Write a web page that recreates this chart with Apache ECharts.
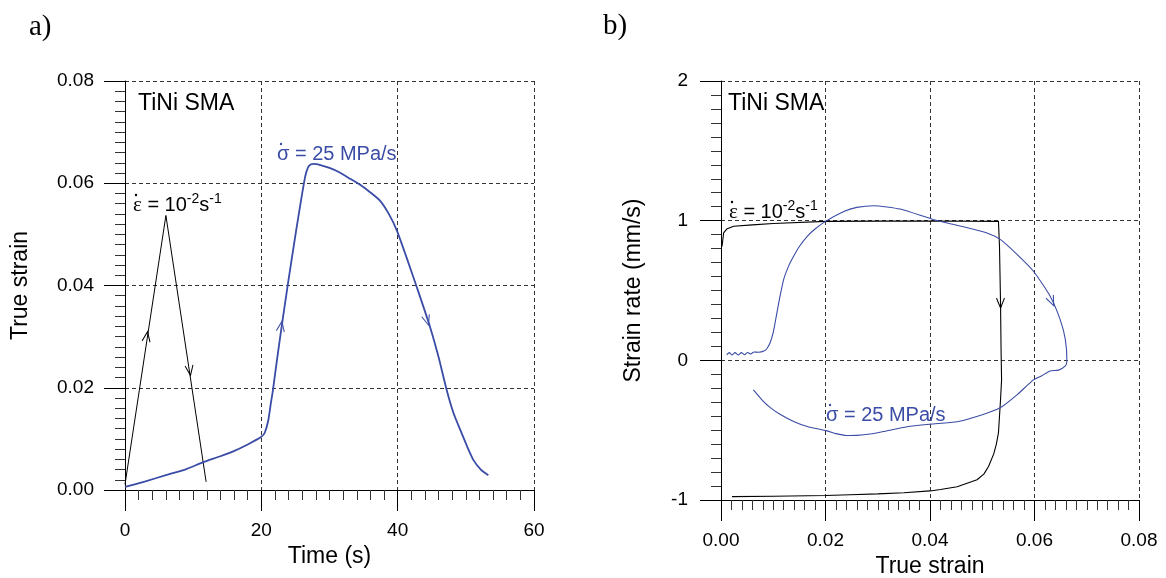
<!DOCTYPE html>
<html><head><meta charset="utf-8">
<script src="https://cdn.jsdelivr.net/npm/echarts@6/dist/echarts.min.js"></script>
<style>html,body{margin:0;padding:0;background:#fff}#c{width:1166px;height:578px}</style>
</head><body><div id="c"></div>
<script>
// ---------- DATA ----------
// Panel a) : Time (s) vs True strain
const aXTickLabels = ['0', '20', '40', '60'];
const aYTickLabels = ['0.00', '0.02', '0.04', '0.06', '0.08'];
const aBlackTime   = [0, 6.0, 11.9];
const aBlackStrain = [0.0011, 0.0537, 0.0016];
const aBlueTime   = [0, 3, 6, 9, 11.4, 14, 15.8, 18, 20, 20.5, 21, 21.4, 21.7, 22.3, 22.9, 23.9, 25.1, 26.4, 26.85, 27.3, 27.8, 28.3, 30, 31.5, 33, 34.7, 36, 37.4, 38.7, 39.9, 41.3, 42.8, 44.75, 46, 47.2, 48.2, 49.2, 50.2, 51.1, 52.2, 53.3];
const aBlueStrain = [0.0006, 0.0017, 0.0029, 0.0041, 0.0054, 0.0066, 0.0075, 0.0089, 0.0104, 0.0112, 0.0135, 0.017, 0.0195, 0.0255, 0.0312, 0.0403, 0.0507, 0.0611, 0.0631, 0.0637, 0.0638, 0.0637, 0.0630, 0.0621, 0.0609, 0.0595, 0.0582, 0.0566, 0.0540, 0.0507, 0.0455, 0.0397, 0.0319, 0.0260, 0.0195, 0.0150, 0.0117, 0.0085, 0.0059, 0.0040, 0.0029];
// arrows: [x, y, towardX, towardY]
const aBlackArrows = [[3.2, 0.0300, 6.0, 0.0537], [9.5, 0.0234, 11.9, 0.0016]];
const aBlueArrows  = [[22.9, 0.0320, 23.9, 0.0403], [44.3, 0.0332, 45.5, 0.0280]];

// Panel b) : True strain vs Strain rate (mm/s)
const bXTickLabels = ['0.00', '0.02', '0.04', '0.06', '0.08'];
const bYTickLabels = ['-1', '0', '1', '2'];
const bBlackStrain = [0.0002, 0.0005, 0.0011, 0.0024, 0.006, 0.010, 0.020, 0.030, 0.040, 0.0531, 0.0533, 0.0535, 0.0536, 0.0537, 0.0535, 0.0533, 0.0531, 0.0527, 0.0522, 0.0512, 0.0503, 0.0490, 0.0471, 0.0452, 0.0420, 0.0400, 0.0350, 0.0300, 0.0247, 0.0200, 0.0100, 0.0021];
const bBlackRate   = [0.816, 0.912, 0.94, 0.96, 0.97, 0.98, 0.995, 0.997, 0.998, 0.995, 0.816, 0.41, 0.08, -0.14, -0.28, -0.40, -0.52, -0.60, -0.67, -0.76, -0.815, -0.855, -0.88, -0.905, -0.925, -0.935, -0.948, -0.956, -0.962, -0.968, -0.973, -0.976];
const bBlueStrain = [0.0011, 0.0016, 0.0021, 0.0027, 0.0033, 0.0039, 0.0045, 0.0051, 0.0057, 0.0063, 0.0072, 0.0082, 0.0088, 0.0094, 0.0100, 0.0107, 0.0113, 0.0120, 0.0130, 0.0139, 0.0150, 0.0165, 0.0180, 0.0200, 0.0235, 0.0260, 0.0292, 0.0343, 0.0407, 0.0460, 0.0509, 0.0535, 0.0567, 0.0598, 0.0630, 0.0649, 0.0659, 0.0662, 0.0659, 0.0646, 0.0630, 0.0614, 0.0598, 0.0567, 0.0535, 0.0503, 0.0452, 0.0400, 0.0356, 0.0311, 0.0285, 0.0260, 0.0240, 0.0220, 0.0203, 0.0165, 0.0140, 0.0113, 0.0095, 0.0080, 0.0062];
const bBlueRate   = [0.040, 0.055, 0.038, 0.055, 0.038, 0.055, 0.040, 0.056, 0.045, 0.060, 0.058, 0.066, 0.085, 0.126, 0.200, 0.340, 0.460, 0.580, 0.680, 0.745, 0.815, 0.888, 0.940, 0.995, 1.066, 1.095, 1.107, 1.083, 1.007, 0.960, 0.912, 0.864, 0.757, 0.638, 0.459, 0.293, 0.150, -0.005, -0.040, -0.070, -0.076, -0.110, -0.140, -0.245, -0.338, -0.386, -0.440, -0.457, -0.475, -0.510, -0.528, -0.537, -0.538, -0.525, -0.505, -0.474, -0.440, -0.386, -0.340, -0.290, -0.212];
const bBlackArrows = [[0.0535, 0.41, 0.0536, 0.08]];
const bBlueArrows  = [[0.0633, 0.424, 0.0649, 0.293]];

// ---------- STYLE ----------
const BLUE = '#3a4ca6';
const BLACK = '#000';
const SANS = '"Liberation Sans", Arial, sans-serif';
const SERIF = '"Liberation Serif", "Times New Roman", serif';

function zip(a, b) { return a.map((v, i) => [v, b[i]]); }

function axisCommon(labels, min, max, interval, isX) {
  return {
    type: 'value', min: min, max: max, interval: interval,
    axisLine: { show: true, onZero: false, lineStyle: { color: BLACK, width: 1 } },
    axisTick: { show: true, inside: false, length: 21, lineStyle: { color: BLACK, width: 1 } },
    minorTick: { show: true, splitNumber: 10, length: 10, lineStyle: { color: '#333', width: 1 } },
    splitLine: { show: true, lineStyle: { color: '#333', width: 1, type: [4, 3] } },
    minorSplitLine: { show: false },
    axisLabel: {
      show: true, color: BLACK, fontSize: 19, fontFamily: SANS,
      margin: isX ? 31 : 31,
      showMinLabel: true, showMaxLabel: true,
      formatter: function (v) { const i = Math.round((v - min) / interval); return labels[i]; }
    },
    nameLocation: 'middle',
    nameTextStyle: { color: BLACK, fontSize: 23, fontFamily: SANS },
  };
}

const xA = Object.assign(axisCommon(aXTickLabels, 0, 60, 20, true), { gridIndex: 0, name: 'Time (s)', nameGap: 52 });
const yA = Object.assign(axisCommon(aYTickLabels, 0, 0.08, 0.02, false), { gridIndex: 0, name: 'True strain', nameGap: 93, nameRotate: 90 });
const xB = Object.assign(axisCommon(bXTickLabels, 0, 0.08, 0.02, true), { gridIndex: 1, name: 'True strain', nameGap: 52 });
const yB = Object.assign(axisCommon(bYTickLabels, -1, 2, 1, false), { gridIndex: 1, name: 'Strain rate (mm/s)', nameGap: 76, nameRotate: 90 });
yB.axisLabel.margin = 33;

function lineSeries(name, xi, data, color, width, smooth) {
  return {
    name: name, type: 'line', xAxisIndex: xi, yAxisIndex: xi,
    data: data, showSymbol: false, symbol: 'none', smooth: smooth,
    lineStyle: { color: color, width: width }, itemStyle: { color: color },
    silent: true, z: 5
  };
}

const series = [
  lineSeries('aBlack', 0, zip(aBlackTime, aBlackStrain), BLACK, 1, false),
  lineSeries('aBlue', 0, zip(aBlueTime, aBlueStrain), BLUE, 1.8, 0.2),
  lineSeries('bBlack', 1, zip(bBlackStrain, bBlackRate), BLACK, 1.1, false),
  lineSeries('bBlue', 1, zip(bBlueStrain, bBlueRate), BLUE, 1.1, 0.2),
];

// label with a dotted Greek letter prefix (dot drawn as a small circle above the letter)
function richLabel(x, y, prefixChar, mainRest, supA, midText, supB, color, serifPrefix, dotDx) {
  const txt = supA !== null
    ? '{p|' + prefixChar + '}{t|' + mainRest + '}{s|' + supA + '}{t|' + midText + '}{s|' + supB + '}'
    : '{p|' + prefixChar + '}{t|' + mainRest + '}';
  return [{
    type: 'text', x: x, y: y, z: 10, silent: true,
    style: {
      text: txt, fill: color, verticalAlign: 'middle', align: 'left',
      rich: {
        p: { fontFamily: serifPrefix ? SERIF : SANS, fontSize: serifPrefix ? 21 : 20, lineHeight: 26, fill: color, color: color },
        t: { fontFamily: SANS, fontSize: 20, lineHeight: 26, fill: color, color: color },
        s: { fontFamily: SANS, fontSize: 14, lineHeight: 14, verticalAlign: 'top', fill: color, color: color }
      }
    }
  }, {
    type: 'circle', z: 10, silent: true,
    shape: { cx: x + dotDx, cy: y - 10, r: 1.2 }, style: { fill: color }
  }];
}

function plainText(x, y, text, size, family, color) {
  return { type: 'text', x: x, y: y, z: 10, silent: true,
    style: { text: text, fill: color, font: size + 'px ' + family, verticalAlign: 'middle', align: 'left' } };
}

const graphics = [
  plainText(29, 27, 'a)', 29, SERIF, BLACK),
  plainText(603, 26, 'b)', 29, SERIF, BLACK),
  plainText(138, 104, 'TiNi SMA', 23, SANS, BLACK),
  plainText(728, 104, 'TiNi SMA', 23, SANS, BLACK),
].concat(
  richLabel(133, 205, 'ε', ' = 10', '-2', 's', '-1', BLACK, true, 3),
  richLabel(729, 212, 'ε', ' = 10', '-2', 's', '-1', BLACK, true, 3),
  richLabel(826, 415, 'σ', ' = 25 MPa/s', null, null, null, BLUE, false, 4),
  richLabel(277, 154, 'σ', ' = 25 MPa/s', null, null, null, BLUE, false, 4)
);

const chart = echarts.init(document.getElementById('c'), null, { renderer: 'canvas' });
chart.setOption({
  animation: false,
  backgroundColor: '#fff',
  grid: [
    { left: 125, top: 81, width: 409, height: 409, outerBoundsMode: 'none', containLabel: false },
    { left: 721, top: 81, width: 418, height: 419, outerBoundsMode: 'none', containLabel: false }
  ],
  xAxis: [xA, xB],
  yAxis: [yA, yB],
  series: series,
  graphic: graphics
});

// arrows: orientation computed from the library's own scales
const CHEVRON = 'path://M0,10 L5,0 L10,10';
function arrowPoints(gridIndex, list) {
  return list.map(function (a) {
    const p = chart.convertToPixel({ gridIndex: gridIndex }, [a[0], a[1]]);
    const q = chart.convertToPixel({ gridIndex: gridIndex }, [a[2], a[3]]);
    const dx = q[0] - p[0], dy = q[1] - p[1];
    const theta = Math.atan2(dx, -dy) * 180 / Math.PI;
    return { coord: [a[0], a[1]], symbolRotate: -theta };
  });
}
function markArrows(color, data) {
  return {
    symbol: CHEVRON, symbolSize: [8, 10], symbolKeepAspect: false, animation: false, silent: true,
    itemStyle: { color: 'none', borderColor: color, borderWidth: 1.1 },
    label: { show: false }, data: data
  };
}
chart.setOption({
  series: [
    { markPoint: markArrows(BLACK, arrowPoints(0, aBlackArrows)) },
    { markPoint: markArrows(BLUE, arrowPoints(0, aBlueArrows)) },
    { markPoint: markArrows(BLACK, arrowPoints(1, bBlackArrows)) },
    { markPoint: markArrows(BLUE, arrowPoints(1, bBlueArrows)) }
  ]
});
</script></body></html>
